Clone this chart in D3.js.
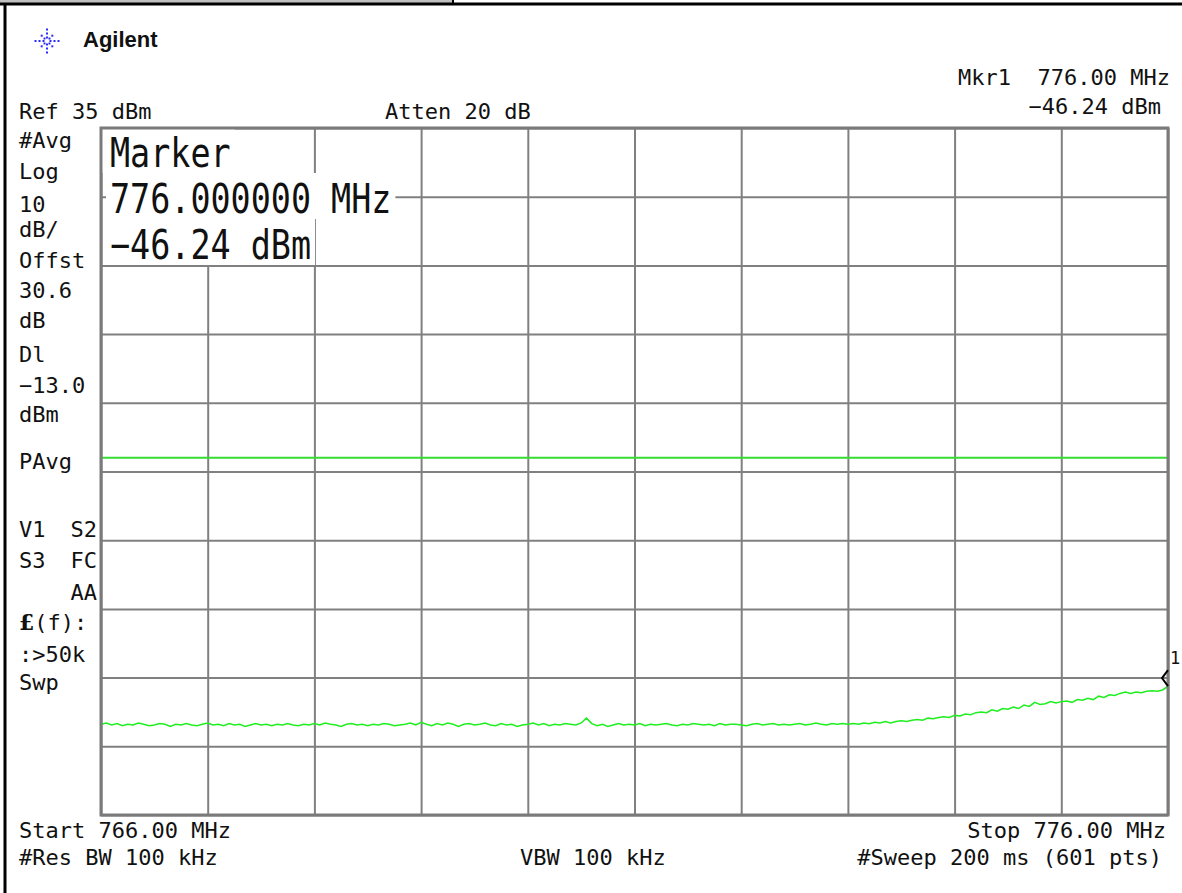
<!DOCTYPE html>
<html>
<head>
<meta charset="utf-8">
<script src="https://cdn.jsdelivr.net/npm/d3@7"></script>
<style>
  body { margin: 0; background: #fff; }
  text { font-family: "DejaVu Sans Mono", monospace; fill: #111; white-space: pre; }
</style>
</head>
<body>
<svg id="chart"></svg>
<script>
// analyzer settings
const startMHz = 766.0, stopMHz = 776.0;
const refLevel = 35, dbPerDiv = 10, divisions = 10;
const displayLine = -13.0;
const markerMHz = 776.0, markerDbm = -46.24;

// trace (201 samples, 766 -> 776 MHz)
const traceDbm = [
  -51.8,-51.6,-51.9,-51.7,-52.0,-51.8,-51.9,-51.6,-51.8,-52.0,
  -51.9,-51.7,-51.8,-52.1,-51.8,-51.9,-51.7,-51.9,-52.0,-51.8,
  -51.6,-51.9,-51.8,-52.0,-51.7,-51.9,-51.8,-52.1,-51.9,-51.7,
  -51.9,-51.8,-52.0,-51.8,-51.9,-51.7,-51.9,-52.0,-51.8,-51.9,
  -51.7,-51.9,-51.6,-51.8,-51.9,-52.1,-51.8,-51.7,-51.9,-51.8,
  -52.0,-51.8,-51.9,-51.7,-51.8,-52.0,-51.9,-51.8,-51.6,-51.9,
  -51.5,-51.8,-52.0,-51.7,-51.9,-51.6,-51.8,-52.1,-51.8,-51.7,
  -51.9,-51.8,-51.6,-51.9,-52.0,-51.7,-51.9,-51.8,-52.1,-51.9,
  -51.8,-51.6,-51.9,-51.7,-52.0,-51.8,-51.9,-51.7,-51.8,-51.9,
  -51.6,-50.9,-51.7,-52.0,-51.8,-52.1,-51.9,-51.7,-51.9,-51.8,
  -51.9,-51.7,-52.0,-51.8,-51.9,-51.8,-51.7,-51.9,-52.0,-51.8,
  -51.9,-51.7,-51.8,-51.9,-51.8,-52.0,-51.7,-51.9,-51.8,-51.8,
  -51.9,-52.0,-51.8,-51.7,-51.9,-51.8,-51.7,-51.9,-51.8,-51.9,
  -51.8,-51.7,-51.9,-51.8,-51.6,-51.8,-51.9,-51.7,-51.8,-51.7,
  -51.8,
  -51.7,-51.8,-51.6,-51.7,-51.5,-51.6,-51.4,-51.6,-51.4,-51.3,
  -51.4,-51.2,-51.1,-51.2,-50.9,-51.0,-50.8,-50.7,-50.8,-50.5,
  -50.6,-50.3,-50.4,-50.1,-50.0,-50.1,-49.7,-49.9,-49.5,-49.6,
  -49.3,-49.5,-49.0,-49.2,-48.6,-48.9,-48.8,-48.5,-48.7,-48.5,
  -48.4,-48.6,-48.2,-48.3,-48.0,-48.2,-47.7,-47.9,-47.5,-47.6,
  -47.3,-47.1,-47.3,-47.1,-47.2,-47.0,-46.9,-47.0,-46.8,-46.24
];

// annotation texts
const sideLabels = ["#Avg", "Log", "10", "dB/", "Offst", "30.6", "dB",
  "Dl", "\u221213.0", "dBm", "PAvg", "V1", "S3", "", "", ":>50k", "Swp"];
const sideRight = ["", "", "", "", "", "", "", "", "", "", "", "S2", "FC", "AA", "", "", ""];
const markerLines = ["Marker", "776.000000 MHz", "\u221246.24 dBm"];
const headerLeft = "Ref 35 dBm";
const headerMid = "Atten 20 dB";
const mkrLine1 = "Mkr1  776.00 MHz";
const mkrLine2 = "\u221246.24 dBm";
const footStart = "Start 766.00 MHz";
const footStop = "Stop 776.00 MHz";
const footRbw = "#Res BW 100 kHz";
const footVbw = "VBW 100 kHz";
const footSweep = "#Sweep 200 ms (601 pts)";

const W = 1182, H = 893;
const plot = { left: 101, right: 1168, top: 128, bottom: 815 };

const svg = d3.select("#chart").attr("width", W).attr("height", H);
svg.append("rect").attr("width", W).attr("height", H).attr("fill", "#fff");

// screen frame
svg.append("rect").attr("x", 0).attr("y", 0).attr("width", 453).attr("height", 3).attr("fill", "#c0c0c0");
svg.append("line").attr("x1", 0).attr("x2", W).attr("y1", 4).attr("y2", 4).attr("stroke", "#000").attr("stroke-width", 3);
svg.append("line").attr("x1", 453).attr("x2", 453).attr("y1", 0).attr("y2", 4).attr("stroke", "#000").attr("stroke-width", 2);
svg.append("line").attr("x1", 5).attr("x2", 5).attr("y1", 3).attr("y2", H).attr("stroke", "#000").attr("stroke-width", 3);

const x = d3.scaleLinear().domain([startMHz, stopMHz]).range([plot.left, plot.right]);
const bottomLevel = refLevel - dbPerDiv * divisions;
const y = d3.scaleLinear().domain([bottomLevel, refLevel]).range([plot.bottom, plot.top]);

const pw = plot.right - plot.left, ph = plot.bottom - plot.top;

// grid via axes
const xTicks = d3.range(divisions + 1).map(i => startMHz + i * (stopMHz - startMHz) / divisions);
const yTicks = d3.range(divisions + 1).map(i => bottomLevel + i * dbPerDiv);

const gx = svg.append("g")
  .attr("transform", `translate(0,${plot.bottom})`)
  .call(d3.axisBottom(x).tickValues(xTicks).tickSize(-ph).tickFormat(""));
const gy = svg.append("g")
  .attr("transform", `translate(${plot.left},0)`)
  .call(d3.axisLeft(y).tickValues(yTicks).tickSize(-pw).tickFormat(""));
[gx, gy].forEach(g => {
  g.select(".domain").remove();
  g.selectAll(".tick line").attr("stroke", "#808080").attr("stroke-width", 2);
});

// marker readout box in the upper-left of the graticule
const mk = svg.append("g");
const mkBase = [167, 213, 259];
markerLines.forEach((t, i) => {
  const txt = mk.append("text")
    .attr("transform", `translate(110,${mkBase[i]}) scale(1,1.2)`)
    .style("font-size", "33.4px")
    .text(t);
  const w = txt.node().getComputedTextLength();
  mk.insert("rect", "text")
    .attr("x", i === 0 ? plot.left : 106)
    .attr("y", mkBase[i] - 40)
    .attr("width", (i === 0 ? 110 - plot.left : 4) + w + 4)
    .attr("height", 46)
    .attr("fill", "#fff");
});

// display line
svg.append("line")
  .attr("x1", plot.left).attr("x2", plot.right)
  .attr("y1", y(displayLine)).attr("y2", y(displayLine))
  .attr("stroke", "#33dd33").attr("stroke-width", 2);

// trace
const step = (stopMHz - startMHz) / (traceDbm.length - 1);
const line = d3.line()
  .x((d, i) => x(startMHz + i * step))
  .y(d => y(d));
svg.append("path")
  .datum(traceDbm)
  .attr("d", line)
  .attr("fill", "none")
  .attr("stroke", "#1fee1f")
  .attr("stroke-width", 1.5);

// plot border
svg.append("rect")
  .attr("x", plot.left).attr("y", plot.top)
  .attr("width", pw).attr("height", ph)
  .attr("fill", "none").attr("stroke", "#7a7a7a").attr("stroke-width", 3);

// marker diamond (right half hidden by the border)
const mx = x(markerMHz), my = y(markerDbm);
svg.append("path")
  .attr("d", `M${mx},${my} L${mx - 6},${my - 8} L${mx},${my - 16}`)
  .attr("fill", "none").attr("stroke", "#000").attr("stroke-width", 2);
svg.append("text").attr("x", mx + 2).attr("y", my - 22)
  .style("font-size", "17px").text("1");

// header
const logo = svg.append("g").attr("transform", "translate(47,41)");
d3.range(8).forEach(k => {
  const a = k * Math.PI / 4;
  [3.5, 7.5, 11.5].forEach((r, j) => {
    if (j === 2 && k % 2 === 1) return;
    logo.append("rect")
      .attr("x", Math.cos(a) * r - 1).attr("y", Math.sin(a) * r - 1)
      .attr("width", 2).attr("height", 2).attr("fill", "#2a2aff");
  });
});
svg.append("text").attr("x", 83).attr("y", 47)
  .style("font-family", "'Liberation Sans', Arial, sans-serif")
  .style("font-weight", "bold").style("font-size", "22px").text("Agilent");

const small = (tx, ty, t, anchor) => svg.append("text")
  .attr("x", tx).attr("y", ty).attr("text-anchor", anchor || "start")
  .style("font-size", "22px").text(t);

small(19, 119, headerLeft);
small(385, 119, headerMid);
small(1170, 85, mkrLine1, "end");
small(1161, 114, mkrLine2, "end");

// left annotation column
const sideY = [148, 179, 212, 237, 268, 298, 328, 362, 393, 422, 469, 537, 568, 600, 630, 662, 690];
sideLabels.forEach((t, i) => { if (t) small(19, sideY[i], t); });
sideRight.forEach((t, i) => { if (t) small(97, sideY[i], t, "end"); });
const fx = svg.append("text").attr("x", 19).attr("y", 630).style("font-size", "22px");
fx.append("tspan").style("font-weight", "bold").style("font-family", "'DejaVu Serif', serif").text("\u00a3");
fx.append("tspan").text("(f):");

// footer
small(19, 838, footStart);
small(1166, 838, footStop, "end");
small(19, 865, footRbw);
small(520, 865, footVbw);
small(1162, 865, footSweep, "end");
</script>
</body>
</html>
